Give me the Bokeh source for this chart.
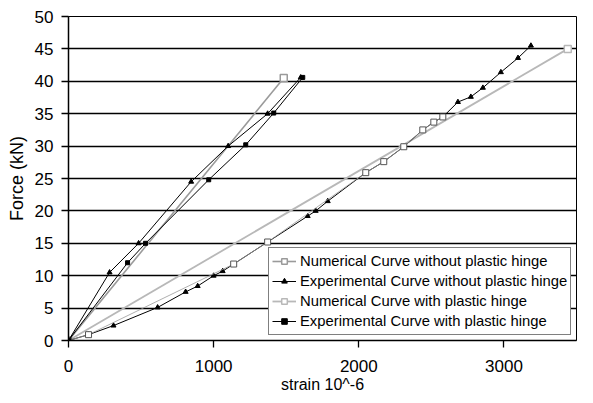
from bokeh.plotting import figure
from bokeh.models import Range1d, FixedTicker, Legend, LegendItem
from bokeh.embed import file_html
from bokeh.resources import INLINE

# ---- data ----
x_ticks = [0, 1000, 2000, 3000]
y_ticks = [0, 5, 10, 15, 20, 25, 30, 35, 40, 45, 50]

# Numerical curve without plastic hinge (steep grey line)
num_wo_x = [0, 1483]
num_wo_y = [0, 40.5]
# open-square points lying on the shallow experimental path
num_wo2_x = [0, 138, 1138, 1372, 2048, 2172, 2310, 2441, 2517, 2579]
num_wo2_y = [0, 0.9, 11.8, 15.2, 25.9, 27.6, 29.9, 32.5, 33.7, 34.5]

# Experimental curve without plastic hinge (shallow black, triangles)
exp_wo_x = [0, 138, 310, 614, 807, 890, 1000, 1062, 1138, 1372, 1648, 1703, 1786,
            2048, 2172, 2310, 2441, 2517, 2579, 2683, 2772, 2855, 2979, 3097, 3186]
exp_wo_y = [0, 0.9, 2.3, 5.1, 7.5, 8.4, 10.0, 10.7, 11.8, 15.2, 19.2, 20.0, 21.5,
            25.9, 27.6, 29.9, 32.5, 33.7, 34.5, 36.8, 37.6, 39.0, 41.4, 43.6, 45.5]
# Experimental (steep black, triangles)
exp_wo_s_x = [0, 283, 483, 845, 1100, 1372, 1600]
exp_wo_s_y = [0, 10.5, 15.0, 24.5, 30.0, 35.0, 40.6]

# Numerical curve with plastic hinge (shallow light-grey straight line)
num_w_x = [0, 3440]
num_w_y = [0, 45.0]

# Experimental curve with plastic hinge (steep black, filled squares)
exp_w_x = [0, 407, 531, 966, 1221, 1414, 1614]
exp_w_y = [0, 12.0, 15.0, 24.8, 30.2, 35.1, 40.6]

labels = ["Numerical Curve without plastic hinge",
          "Experimental Curve without plastic hinge",
          "Numerical Curve with plastic hinge",
          "Experimental Curve with plastic hinge"]

FONT = "Liberation Sans"

p = figure(width=585, height=395, output_backend="svg", toolbar_location=None,
           x_range=Range1d(0, 3500), y_range=Range1d(0, 50),
           min_border_left=68, min_border_right=9, min_border_top=16, min_border_bottom=53)
p.background_fill_color = "white"
p.border_fill_color = "white"
p.outline_line_color = "black"
p.outline_line_width = 1

p.xgrid.visible = False
p.ygrid.ticker = FixedTicker(ticks=y_ticks)
p.ygrid.grid_line_color = "black"
p.ygrid.grid_line_width = 1.4

p.xaxis.ticker = FixedTicker(ticks=x_ticks)
p.yaxis.ticker = FixedTicker(ticks=y_ticks)
for ax in (p.xaxis[0], p.yaxis[0]):
    ax.axis_line_color = "black"
    ax.axis_line_width = 1.5
    ax.major_tick_line_color = "black"
    ax.major_tick_line_width = 1.3
    ax.major_tick_in = 0
    ax.major_tick_out = 7
    ax.minor_tick_line_color = None
    ax.major_label_text_font = FONT
    ax.major_label_text_font_size = "17px"
    ax.major_label_text_color = "black"
    ax.axis_label_text_font = FONT
    ax.axis_label_text_font_size = "16px"
    ax.axis_label_text_font_style = "normal"
    ax.axis_label_text_color = "black"
p.xaxis.major_label_standoff = 12
p.yaxis.major_label_standoff = 8
p.xaxis.axis_label = "strain 10^-6"
p.yaxis.axis_label = "Force (kN)"
p.yaxis.axis_label_text_font_size = "18px"
p.xaxis.axis_label_standoff = 1
p.yaxis.axis_label_standoff = 5

GREY = "#9a9a9a"
LGREY = "#b8b8b8"

# numerical without (steep grey)
r1l = p.line(num_wo_x, num_wo_y, line_color=GREY, line_width=1.6)
r1m = p.scatter(num_wo_x, num_wo_y, marker="square", size=7, fill_color="white",
                line_color=GREY, line_width=1.5)
# numerical with (shallow light grey)
r3l = p.line(num_w_x, num_w_y, line_color=LGREY, line_width=1.8)
r3m = p.scatter(num_w_x, num_w_y, marker="square", size=7, fill_color="white",
                line_color=LGREY, line_width=1.5)
# experimental without - shallow
r2l = p.line(exp_wo_x, exp_wo_y, line_color="black", line_width=1)
r2m = p.scatter(exp_wo_x, exp_wo_y, marker="triangle", size=5, fill_color="black",
                line_color="black")
# open squares on shallow path
r1bl = p.line(num_wo2_x, num_wo2_y, line_color=GREY, line_width=0.8)
r1bm = p.scatter(num_wo2_x, num_wo2_y, marker="square", size=6, fill_color="white",
                 line_color="#555555", line_width=1)
# experimental steep (triangles)
r2sl = p.line(exp_wo_s_x, exp_wo_s_y, line_color="black", line_width=1)
r2sm = p.scatter(exp_wo_s_x, exp_wo_s_y, marker="triangle", size=5, fill_color="black",
                 line_color="black")
# experimental with (steep, filled squares)
r4l = p.line(exp_w_x, exp_w_y, line_color="black", line_width=1)
r4m = p.scatter(exp_w_x, exp_w_y, marker="square", size=4, fill_color="black",
                line_color="black")

legend = Legend(items=[
    LegendItem(label=labels[0], renderers=[r1l, r1m]),
    LegendItem(label=labels[1], renderers=[r2l, r2m]),
    LegendItem(label=labels[2], renderers=[r3l, r3m]),
    LegendItem(label=labels[3], renderers=[r4l, r4m]),
], location=(200, 5))
legend.label_text_font = FONT
legend.label_text_font_size = "14.8px"
legend.label_text_color = "black"
legend.label_height = 20
legend.glyph_height = 14
legend.glyph_width = 24
legend.label_standoff = 4
legend.spacing = 0
legend.padding = 3
legend.margin = 0
legend.border_line_color = "black"
legend.border_line_width = 1.3
legend.background_fill_color = "white"
legend.background_fill_alpha = 1
p.add_layout(legend, "center")

open("out.html", "w").write(file_html(p, INLINE))
